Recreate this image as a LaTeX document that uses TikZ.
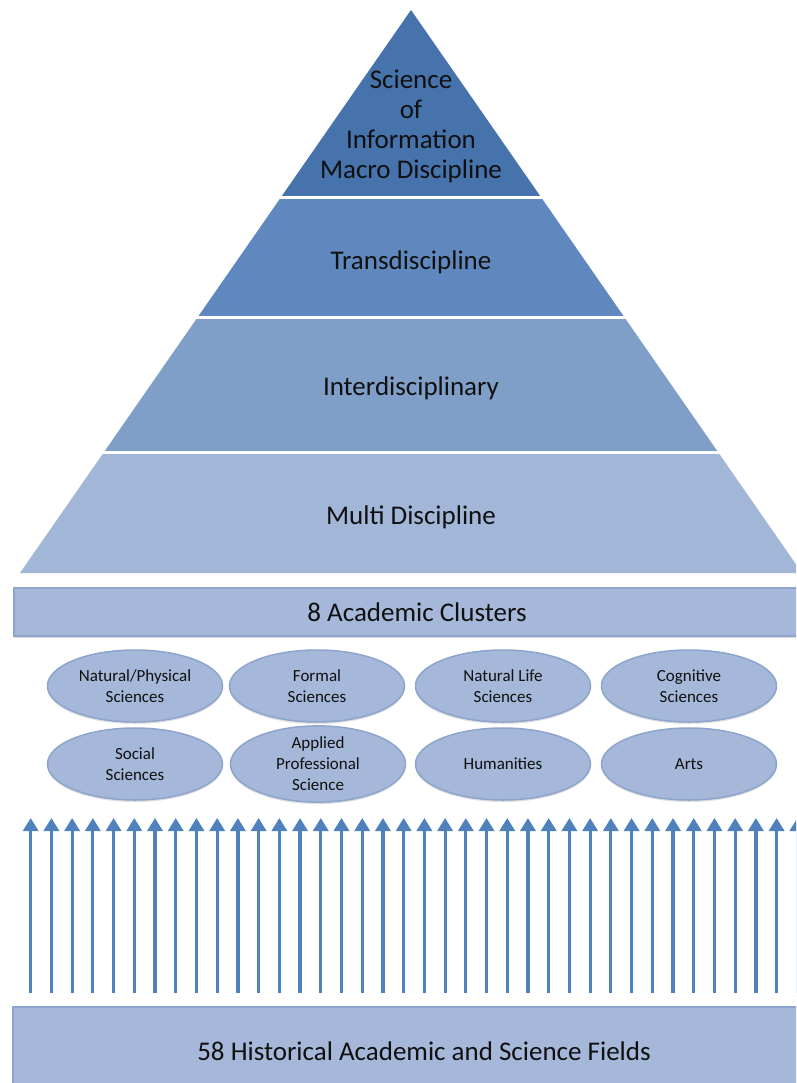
\documentclass[tikz,border=0pt]{standalone}
\usepackage{fontspec}
\setmainfont{Carlito}
\usetikzlibrary{arrows.meta,shadows,shapes.geometric}

\definecolor{bandA}{HTML}{4673AC}
\definecolor{bandB}{HTML}{5F88BF}
\definecolor{bandC}{HTML}{7F9FC8}
\definecolor{bandD}{HTML}{A2B6D8}
\definecolor{panel}{HTML}{A5B8D9}
\definecolor{panelEdge}{HTML}{8DA5CD}
\definecolor{arrowBlue}{HTML}{4F81BD}
\definecolor{ink}{HTML}{101010}

\begin{document}
\begin{tikzpicture}[x=1pt,y=-1pt,
  bigtext/.style={text=ink,font=\fontsize{27}{30}\selectfont,align=center,inner sep=0pt},
  panelbox/.style={fill=panel,draw=panelEdge,line width=1.5pt,
    drop shadow={opacity=0.25,shadow xshift=0pt,shadow yshift=-2pt},
    inner sep=0pt,text=ink,font=\fontsize{27}{30}\selectfont},
  cluster/.style={ellipse,fill=panel,draw=panelEdge,line width=1.5pt,
    drop shadow={opacity=0.25,shadow xshift=0pt,shadow yshift=-2pt},
    minimum width=175pt,minimum height=72pt,inner sep=0pt,
    text=ink,font=\fontsize{17}{21}\selectfont,align=center},
  uparrow/.style={draw=arrowBlue,line width=3.2pt,
    -{Triangle[width=15pt,length=13pt]}}
]
\useasboundingbox (0,0) rectangle (796,1083);
\clip (0,0) rectangle (796,1083);
\fill[white] (0,0) rectangle (796,1083);

% pyramid bands: one triangle cut into horizontal strips
\coordinate (apex) at (411,10);
\coordinate (baseL) at (20,573);
\coordinate (baseR) at (802,573);
\foreach \ya/\yb/\col in {0/195.5/bandA, 199.5/315.5/bandB, 319.5/450.5/bandC, 454.5/573/bandD}{
  \begin{scope}
    \clip (0,\ya) rectangle (796,\yb);
    \fill[\col] (apex) -- (baseL) -- (baseR) -- cycle;
  \end{scope}
}

\node[bigtext] (sci)   at (411,126) {Science\\of\\Information\\Macro Discipline};
\node[bigtext] (trans) at (411,262) {Transdiscipline};
\node[bigtext] (inter) at (411,388) {Interdisciplinary};
\node[bigtext] (multi) at (411,517) {Multi Discipline};

% cluster bar
\node[panelbox,minimum width=806pt,minimum height=48pt] (clusters) at (417,612) {8 Academic Clusters};

% the eight clusters
\node[cluster] (natphys) at (135,686) {Natural/Physical\\Sciences};
\node[cluster] (formal)  at (317,686) {Formal\\Sciences};
\node[cluster] (natlife) at (503,686) {Natural Life\\Sciences};
\node[cluster] (cogn)    at (689,686) {Cognitive\\Sciences};
\node[cluster] (social)  at (135,764) {Social\\Sciences};
\node[cluster] (applied) at (318,764) {Applied\\Professional\\Science};
\node[cluster] (human)   at (503,764) {Humanities};
\node[cluster] (arts)    at (689,764) {Arts};

% base box of fields
\node[panelbox,minimum width=822pt,minimum height=88pt] (fields) at (424,1051) {58 Historical Academic and Science Fields};

% upward arrows from the fields
\foreach \i in {0,...,37}{
  \pgfmathsetmacro{\xx}{30.7+20.72*\i}
  \draw[uparrow] (\xx,993) -- (\xx,818);
}
\end{tikzpicture}
\end{document}
